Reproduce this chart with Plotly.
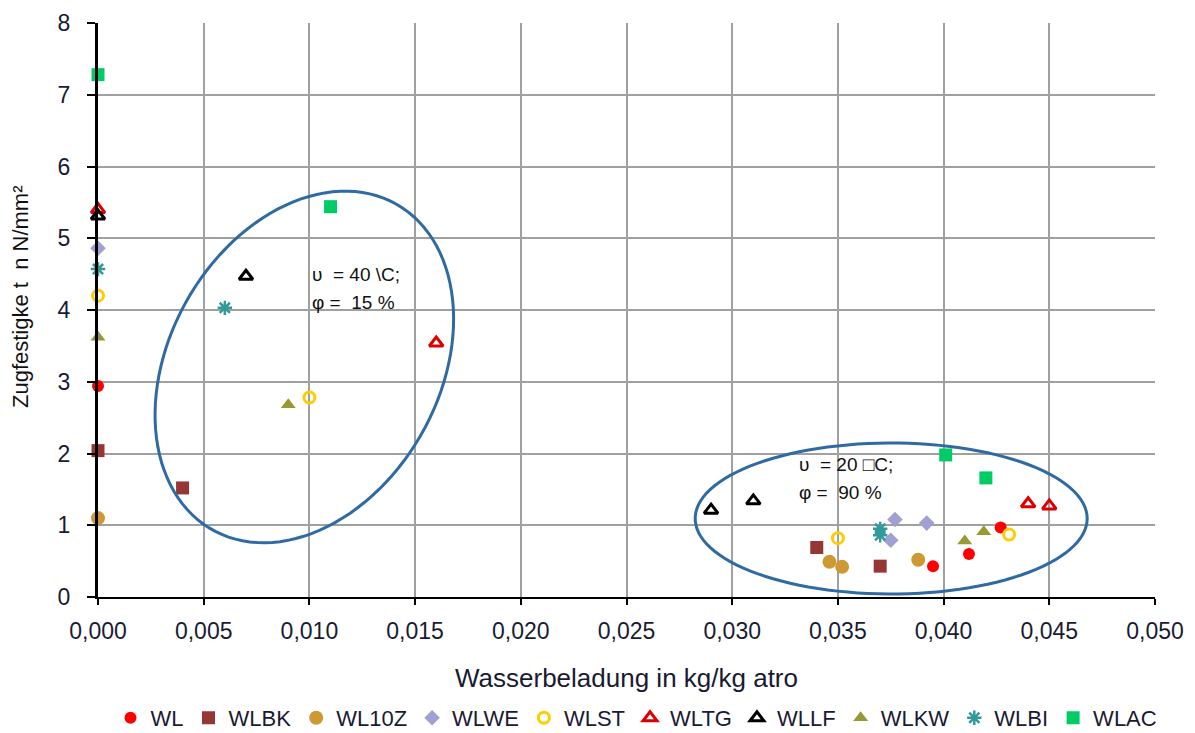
import numpy as np
import plotly.graph_objects as go

# ---------------- data ----------------
series_names = ["WL", "WLBK", "WL10Z", "WLWE", "WLST", "WLTG", "WLLF", "WLKW", "WLBI", "WLAC"]

wl_x = [0.0, 0.0427, 0.0412, 0.0395]
wl_y = [2.94, 0.97, 0.60, 0.43]

wlbk_x = [0.0, 0.0040, 0.0340, 0.0370]
wlbk_y = [2.04, 1.52, 0.69, 0.43]

wl10z_x = [0.0, 0.0346, 0.0352, 0.0388]
wl10z_y = [1.10, 0.49, 0.42, 0.52]

wlwe_x = [0.0, 0.0377, 0.0392, 0.0375]
wlwe_y = [4.86, 1.08, 1.03, 0.79]

wlst_x = [0.0, 0.0100, 0.0350, 0.0431]
wlst_y = [4.20, 2.78, 0.82, 0.87]

wltg_x = [0.0, 0.0160, 0.0440, 0.0450]
wltg_y = [5.40, 3.54, 1.30, 1.27]

wllf_x = [0.0, 0.0070, 0.0290, 0.0310]
wllf_y = [5.31, 4.47, 1.21, 1.34]

wlkw_x = [0.0, 0.0090, 0.0419, 0.0410]
wlkw_y = [3.62, 2.68, 0.91, 0.78]

wlbi_x = [0.0, 0.0060, 0.0370, 0.0370]
wlbi_y = [4.57, 4.03, 0.95, 0.86]

wlac_x = [0.0, 0.0110, 0.0401, 0.0420]
wlac_y = [7.28, 5.44, 1.98, 1.66]

x_ticks = [0.000, 0.005, 0.010, 0.015, 0.020, 0.025, 0.030, 0.035, 0.040, 0.045, 0.050]
y_ticks = [0, 1, 2, 3, 4, 5, 6, 7, 8]

NB = "\u00a0"
x_title = "Wasserbeladung in kg/kg atro"
y_title = "Zugfestigke t" + NB + NB + "n N/mm²"
label_dry = ["υ" + NB + NB + "=" + NB + "40" + NB + "\\C;", "φ" + NB + "=" + NB + NB + "15" + NB + "%"]
label_wet = ["υ" + NB + NB + "=" + NB + "20" + NB + "□C;", "φ" + NB + "=" + NB + NB + "90" + NB + "%"]

# ---------------- layout geometry ----------------
# (page body has an 8px margin, so the figure is 8px smaller than the window)
W, H = 1187, 725
ML, MR, MT, MB = 90, 40, 15, 136
PW, PH = W - ML - MR, H - MT - MB
XR, YR = (0, 0.05), (0, 8)
px_per_x = PW / (XR[1] - XR[0])
px_per_y = PH / (YR[1] - YR[0])

styles = {
    "WL":    dict(symbol="circle", color="#FF0000", size=12),
    "WLBK":  dict(symbol="square", color="#953735", size=13),
    "WL10Z": dict(symbol="circle", color="#CC9933", size=14),
    "WLWE":  dict(symbol="diamond", color="#A0A0D2", size=12),
    "WLST":  dict(symbol="circle-open", color="#FFCC00", size=11, lw=3),
    "WLTG":  dict(symbol="triangle-up-open", color="#DD0000", size=12, lw=3),
    "WLLF":  dict(symbol="triangle-up-open", color="#000000", size=12, lw=3),
    "WLKW":  dict(symbol="triangle-up", color="#999933", size=13),
    "WLBI":  dict(symbol="asterisk-open", color="#339999", size=12, lw=2.5),
    "WLAC":  dict(symbol="square", color="#00CC66", size=13),
}

data = {
    "WL": (wl_x, wl_y), "WLBK": (wlbk_x, wlbk_y), "WL10Z": (wl10z_x, wl10z_y),
    "WLWE": (wlwe_x, wlwe_y), "WLST": (wlst_x, wlst_y), "WLTG": (wltg_x, wltg_y),
    "WLLF": (wllf_x, wllf_y), "WLKW": (wlkw_x, wlkw_y), "WLBI": (wlbi_x, wlbi_y),
    "WLAC": (wlac_x, wlac_y),
}

fig = go.Figure()
for name in series_names:
    st = styles[name]
    xs, ys = data[name]
    marker = dict(symbol=st["symbol"], size=st["size"], color=st["color"])
    if "lw" in st:
        marker["line"] = dict(width=st["lw"], color=st["color"])
    else:
        marker["line"] = dict(width=0)
    fig.add_trace(go.Scatter(x=xs, y=ys, mode="markers", name=name,
                             marker=marker, cliponaxis=False))


def ellipse_path(cx, cy, a_px, b_px, theta_deg, n=120):
    """Ellipse centred at data (cx, cy); semi-axes in pixels; major axis tilted theta from vertical."""
    th = np.radians(theta_deg)
    t = np.linspace(0, 2 * np.pi, n)
    ux, uy = np.sin(th), np.cos(th)
    vx, vy = np.cos(th), -np.sin(th)
    dx = a_px * np.cos(t) * ux + b_px * np.sin(t) * vx
    dy = a_px * np.cos(t) * uy + b_px * np.sin(t) * vy
    xs = cx + dx / px_per_x
    ys = cy + dy / px_per_y
    return "M %f,%f " % (xs[0], ys[0]) + " ".join("L %f,%f" % (a, b) for a, b in zip(xs[1:], ys[1:])) + " Z"

ell_color = "#2F6AA3"
fig.add_shape(type="path", path=ellipse_path(0.00976, 3.206, 187, 135, 29.5),
              xref="x", yref="y", line=dict(color=ell_color, width=3))
fig.add_shape(type="path", path=ellipse_path(0.03752, 1.094, 196, 75.5, 90.0),
              xref="x", yref="y", line=dict(color=ell_color, width=3))

FONT = "Liberation Sans, Arial, sans-serif"
ann_font = dict(family=FONT, size=19, color="#111111")
for i, txt in enumerate(label_dry):
    fig.add_annotation(x=0.01005, y=[4.49, 4.10][i], text=txt, showarrow=False,
                       xanchor="left", yanchor="middle", font=ann_font)
for i, txt in enumerate(label_wet):
    fig.add_annotation(x=0.03305, y=[1.84, 1.45][i], text=txt, showarrow=False,
                       xanchor="left", yanchor="middle", font=ann_font)

# y-axis title as rotated annotation
fig.add_annotation(xref="paper", yref="paper", x=(12 - ML) / PW, y=(PH + MT - 289) / PH,
                   text=y_title, textangle=-90, showarrow=False,
                   xanchor="center", yanchor="middle",
                   font=dict(family=FONT, size=22, color="#111111"))

tick_font = dict(family=FONT, size=23, color="#1a1a33")

fig.update_layout(
    width=W, height=H,
    margin=dict(l=ML, r=MR, t=MT, b=MB, autoexpand=False),
    paper_bgcolor="white", plot_bgcolor="white",
    separators=",.",
    showlegend=True,
    legend=dict(orientation="h", xref="container", yref="container",
                x=628.5 / W, xanchor="center", y=1 - 710 / H, yanchor="middle",
                font=dict(family=FONT, size=22, color="#1a1a33"),
                itemwidth=30, tracegroupgap=0),
    xaxis=dict(range=list(XR), tickvals=x_ticks, tickformat=".3f",
               showgrid=True, gridcolor="#A0A0A0", gridwidth=2,
               showline=True, linecolor="black", linewidth=2,
               ticks="outside", ticklen=6, tickwidth=2, tickcolor="black",
               tickfont=tick_font, zeroline=False, ticklabelstandoff=6,
               title=dict(text=x_title, font=dict(family=FONT, size=26, color="#1a1a33"), standoff=26)),
    yaxis=dict(range=list(YR), tickvals=y_ticks,
               showgrid=True, gridcolor="#A0A0A0", gridwidth=2,
               showline=True, linecolor="black", linewidth=3,
               ticks="outside", ticklen=8, tickwidth=2, tickcolor="black",
               tickfont=tick_font, zeroline=False, ticklabelstandoff=12),
)

fig.write_html("out.html")
